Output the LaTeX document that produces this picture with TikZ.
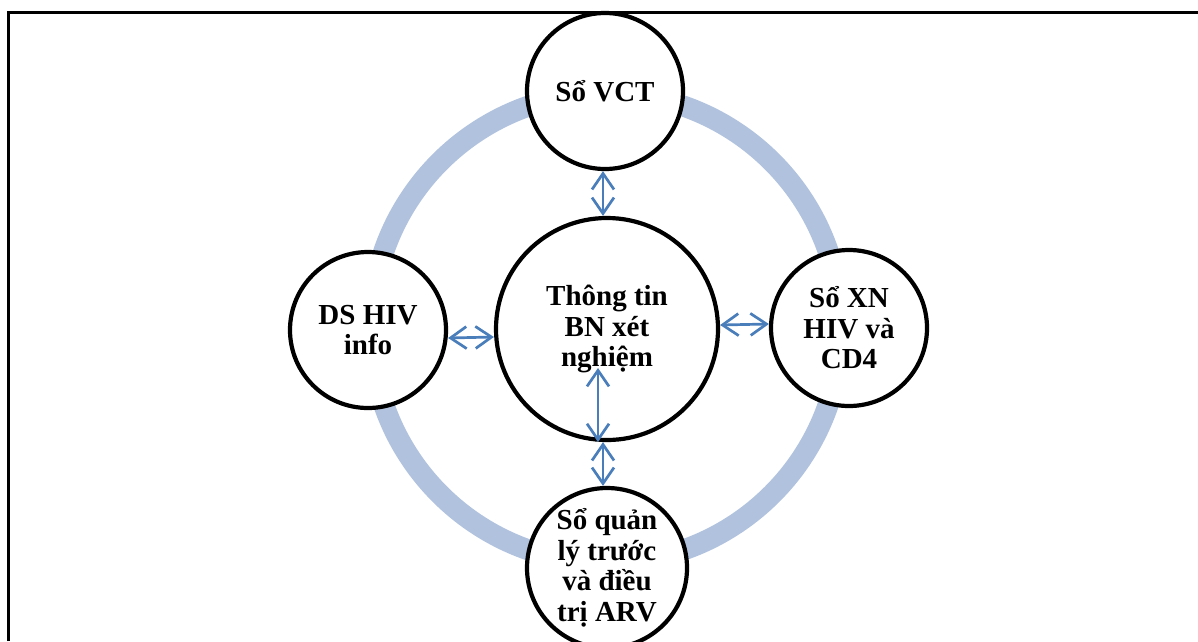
\documentclass[tikz,border=0pt]{standalone}
\usepackage{fontspec}
\setmainfont{Liberation Serif}
\usetikzlibrary{arrows.meta}
\definecolor{ringblue}{RGB}{176,194,222}
\definecolor{arrowblue}{RGB}{74,126,187}
\tikzset{
  bubble/.style={circle, draw=black, line width=4.2pt, fill=white, inner sep=0pt,
    align=center, font=\fontsize{29}{30.5}\selectfont\bfseries},
  satellite/.style={bubble, minimum size=156pt},
  hub/.style={bubble, minimum size=222pt},
  biarrow/.style={draw=arrowblue, line width=2.7pt,
    {Straight Barb[length=16pt,width=22pt]}-{Straight Barb[length=16pt,width=22pt]}},
  ring/.style={draw=ringblue, line width=21pt},
  frameline/.style={draw=black, line width=2.6pt}
}
\begin{document}
\begin{tikzpicture}[x=1pt,y=-1pt]
\useasboundingbox (0,0) rectangle (1198,641);
% open frame: left and top edges
\draw[frameline] (8.5,641) -- (8.5,12.5) -- (1198,12.5);
% connecting ring behind the bubbles
\draw[ring] (606,328) circle (235);
% bubbles
\node[hub] (hub) at (607,329) {Thông tin\\BN xét\\nghiệm};
\node[satellite] (vct) at (605,91) {Sổ VCT};
\node[satellite] (ds) at (368,330) {DS HIV\\info};
\node[satellite] (xn) at (849,328) {Sổ XN\\HIV và\\CD4};
\node[satellite, minimum size=160pt] (arv) at (607,568) {Sổ quản\\lý trước\\và điều\\trị ARV};
% two-way links
\draw[biarrow] ([xshift=-2pt]vct.south) -- ([xshift=-4pt]hub.north);
\draw[biarrow] ([yshift=-8pt]ds.east) -- ([yshift=-8pt]hub.west);
\draw[biarrow] ([yshift=4pt]hub.east) -- ([yshift=4pt]xn.west);
\coordinate (inner) at (598,368);
\draw[biarrow] (inner) -- (inner |- hub.south);
\draw[biarrow] ([xshift=-4pt]hub.south) -- ([xshift=-4pt]arv.north);
\end{tikzpicture}
\end{document}
